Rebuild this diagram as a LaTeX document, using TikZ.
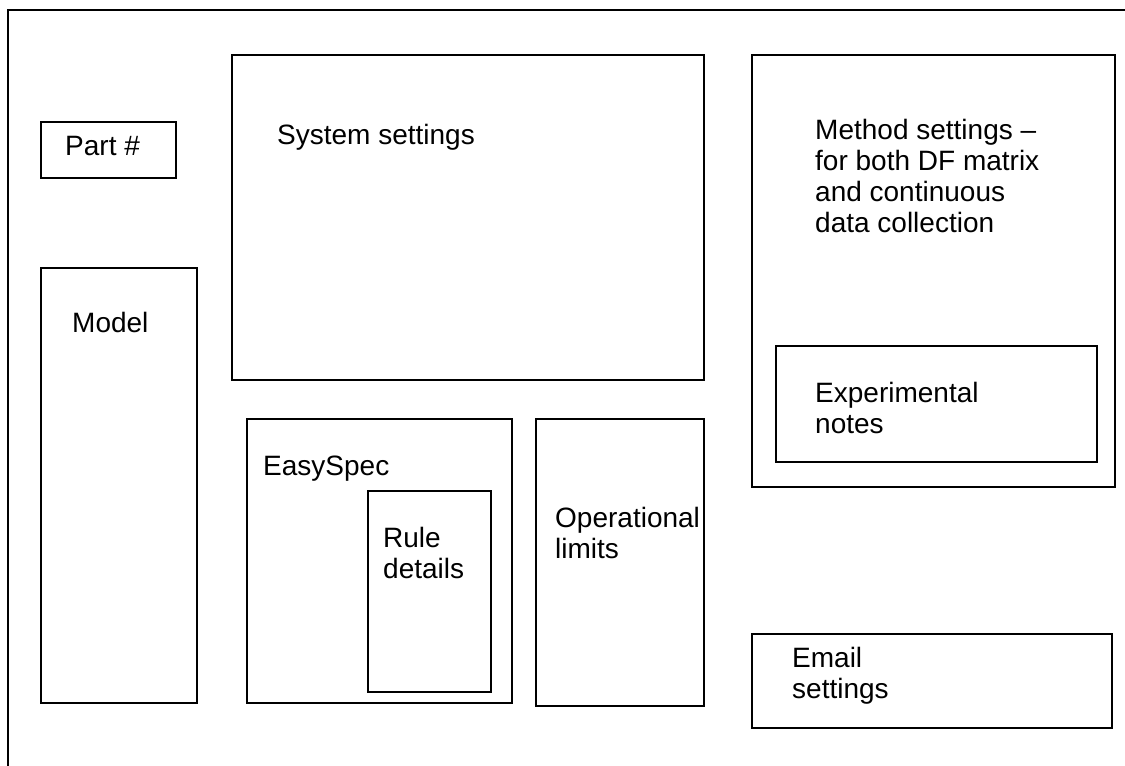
\documentclass[tikz,border=0pt]{standalone}
\usepackage{fontspec}
\setmainfont{Liberation Sans}
\usetikzlibrary{positioning}

\begin{document}
\begin{tikzpicture}[x=1pt,y=-1pt,
  box/.style={draw,line width=1.5pt,inner sep=0pt},
  lbl/.style={font=\fontsize{28}{31}\selectfont,align=left,anchor=base west,inner sep=0pt}]
  \useasboundingbox (0,0) rectangle (1125,766);
  % page frame, only top and left edges show
  \coordinate (frtl) at (8,10);
  \coordinate (frtr) at (1125,10);
  \coordinate (frbl) at (8,766);
  \draw[line width=1.5pt] (frtr) -- (frtl) -- (frbl);
  % boxes
  \node[box,minimum width=135pt,minimum height=56pt]  (part)  at (108.5,150) {};
  \node[box,minimum width=156pt,minimum height=435pt] (model) at (119,485.5) {};
  \node[box,minimum width=472pt,minimum height=325pt] (sys)   at (468,217.5) {};
  \node[box,minimum width=363pt,minimum height=432pt] (meth)  at (933.5,271) {};
  \node[box,minimum width=321pt,minimum height=116pt] (expt)  at (936.5,404) {};
  \node[box,minimum width=265pt,minimum height=284pt] (easy)  at (379.5,561) {};
  \node[box,minimum width=123pt,minimum height=201pt] (rule)  at (429.5,591.5) {};
  \node[box,minimum width=168pt,minimum height=287pt] (oper)  at (620,562.5) {};
  \node[box,minimum width=360pt,minimum height=94pt]  (email) at (932,681) {};
  % labels (base = baseline of the last line)
  \node[lbl] (partT)  at (65,155)  {Part \#};
  \node[lbl] (modelT) at (72,332)  {Model};
  \node[lbl] (sysT)   at (277,144) {System settings};
  \node[lbl] (methT)  at (815,232)
    {Method settings --\\for both DF matrix\\and continuous\\data collection};
  \node[lbl] (exptT)  at (815,433) {Experimental\\notes};
  \node[lbl] (easyT)  at (263,475) {EasySpec};
  \node[lbl] (ruleT)  at (383,578) {Rule\\details};
  \node[lbl] (operT)  at (555,558) {Operational\\limits};
  \node[lbl] (emailT) at (792,698) {Email\\settings};
\end{tikzpicture}
\end{document}
